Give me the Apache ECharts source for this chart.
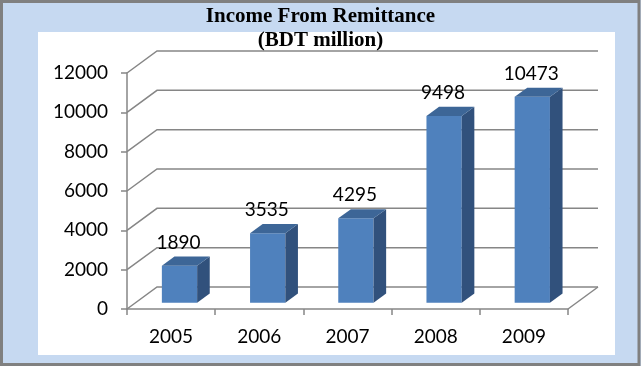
<!DOCTYPE html>
<html><head><meta charset="utf-8">
<script src="https://cdn.jsdelivr.net/npm/echarts@6/dist/echarts.min.js"></script>
<style>html,body{margin:0;padding:0;background:#c6d9f1}#c{width:641px;height:366px}</style>
</head><body><div id="c"></div>
<script>
const categories = ['2005', '2006', '2007', '2008', '2009'];
const values = [1890, 3535, 4295, 9498, 10473];
const yTicks = [0, 2000, 4000, 6000, 8000, 10000, 12000];
const titleText = 'Income From Remittance\n(BDT million)';

const DEPTH_X = 30, DEPTH_Y = -22;
const BAR_FRONT = 0.28, BAR_BACK = 0.7, BAR_W = 0.4;
const LINE = '#868686';
const FONT = 19;

const chart = echarts.init(document.getElementById('c'), null, {renderer: 'canvas'});

function wallItem(params, api) {
  const cs = params.coordSys;
  const v = api.value(1);
  const y = api.coord([0, v])[1];
  const x0 = cs.x, x1 = cs.x + cs.width;
  const children = [
    {type: 'polyline', shape: {points: [[x0, y], [x0 + DEPTH_X, y + DEPTH_Y], [x1 + DEPTH_X, y + DEPTH_Y]]},
     style: {stroke: LINE, lineWidth: 1.5, fill: null}}
  ];
  if (v === 0) {
    children.push({type: 'line', shape: {x1: x1, y1: y, x2: x1 + DEPTH_X, y2: y + DEPTH_Y},
      style: {stroke: LINE, lineWidth: 1.5}});
  }
  return {type: 'group', children: children};
}

function barItem(params, api) {
  const idx = api.value(0), v = api.value(1);
  const base = api.coord([idx, 0]);
  const top = api.coord([idx, v]);
  const band = api.size([1, 0])[0];
  const w = band * BAR_W;
  const fx = base[0] - w / 2 + DEPTH_X * BAR_FRONT;
  const fyb = base[1] + DEPTH_Y * BAR_FRONT;
  const fyt = top[1] + DEPTH_Y * BAR_FRONT;
  const dx = DEPTH_X * (BAR_BACK - BAR_FRONT), dy = DEPTH_Y * (BAR_BACK - BAR_FRONT);
  return {type: 'group', children: [
    {type: 'polygon', shape: {points: [[fx, fyb], [fx + w, fyb], [fx + w, fyt], [fx, fyt]]}, style: {fill: '#4f81bd'}},
    {type: 'polygon', shape: {points: [[fx + w, fyb], [fx + w + dx, fyb + dy], [fx + w + dx, fyt + dy], [fx + w, fyt]]}, style: {fill: '#31517c'}},
    {type: 'polygon', shape: {points: [[fx, fyt], [fx + w, fyt], [fx + w + dx, fyt + dy], [fx + dx, fyt + dy]]}, style: {fill: '#3d6697'}},
    {type: 'text', style: {text: String(v), x: fx + w / 2 - 1, y: fyt - 23, align: 'center', verticalAlign: 'middle',
      font: FONT + 'px Lato', fill: '#000'}}
  ]};
}

chart.setOption({
  animation: false,
  backgroundColor: '#c6d9f1',
  graphic: [
    {type: 'rect', z: -10, shape: {x: 38, y: 32, width: 577, height: 323}, style: {fill: '#ffffff'}},
    {type: 'rect', z: -9, shape: {x: 1.5, y: 1.5, width: 637.5, height: 363}, style: {fill: null, stroke: '#808080', lineWidth: 3}}
  ],
  title: {
    text: titleText, left: 'center', top: 0,
    textStyle: {fontFamily: 'Liberation Serif', fontWeight: 'bold', fontSize: 21, lineHeight: 24, color: '#000'}
  },
  grid: {left: 127, top: 73, width: 441, height: 236},
  xAxis: {
    type: 'category', data: categories, boundaryGap: true,
    axisLine: {show: true, lineStyle: {color: LINE, width: 1.5}},
    axisTick: {show: true, length: 6, lineStyle: {color: LINE, width: 1.5}},
    axisLabel: {margin: 18, fontFamily: 'Lato', fontSize: FONT, color: '#000'}
  },
  yAxis: {
    type: 'value', min: 0, max: 12000, interval: 2000,
    axisLine: {show: true, lineStyle: {color: LINE, width: 1.5}},
    axisTick: {show: true, length: 6, lineStyle: {color: LINE, width: 1.5}},
    splitLine: {show: false},
    axisLabel: {margin: 19, fontFamily: 'Lato', fontSize: FONT, color: '#000', formatter: v => String(v)}
  },
  series: [
    {type: 'custom', renderItem: wallItem, data: yTicks.map(v => [0, v]), encode: {x: 0, y: 1}, z: 1, silent: true},
    {type: 'custom', renderItem: barItem, data: values.map((v, i) => [i, v]), encode: {x: 0, y: 1}, z: 2}
  ]
});
</script></body></html>
